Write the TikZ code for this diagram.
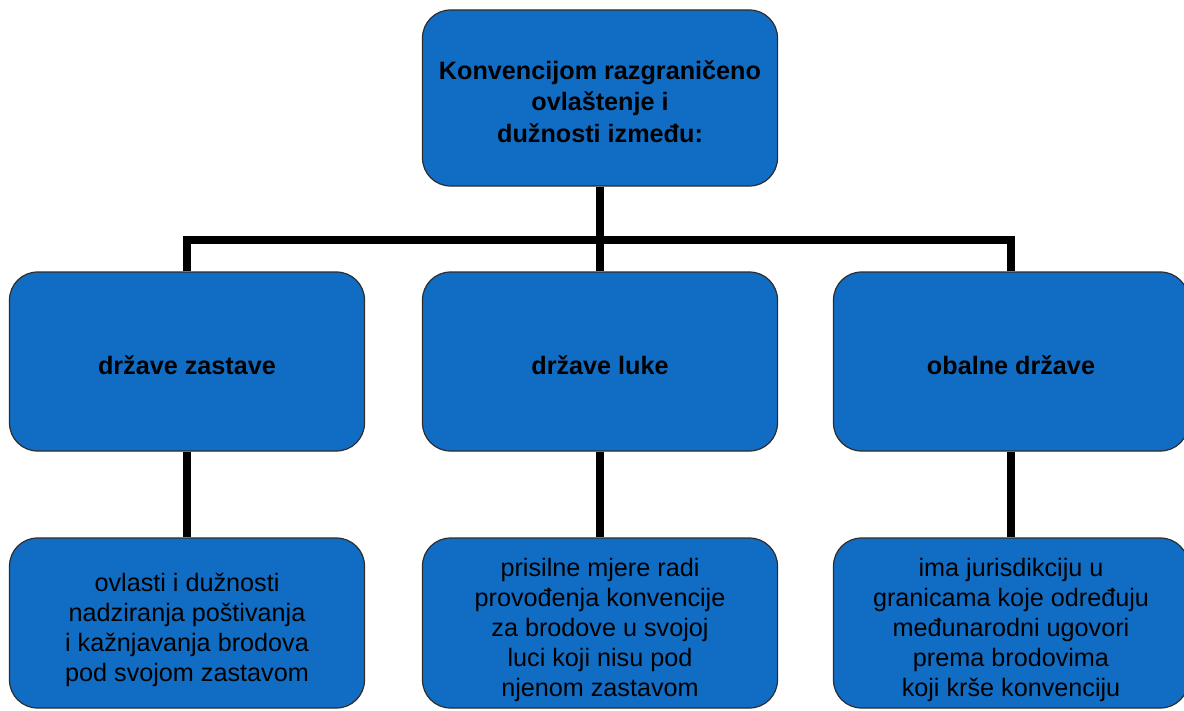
\documentclass[tikz,border=0pt]{standalone}
\usepackage{fontspec}
\setmainfont{Liberation Sans}
\definecolor{boxblue}{RGB}{17,109,196}
\definecolor{edgegray}{RGB}{45,45,45}
\newcommand{\topgap}[1]{\rule{0pt}{#1}}
\begin{document}
\begin{tikzpicture}[x=0.75pt,y=-0.75pt,
  box/.style={draw=edgegray, line width=0.9pt, fill=boxblue, rounded corners=21pt,
    minimum width=266.25pt, align=center, inner sep=0pt,
    font=\fontsize{18.9}{22.4}\selectfont},
  headbox/.style={box, font=\bfseries\fontsize{18.9}{23.6}\selectfont},
  conn/.style={line width=5.6pt, black}]
\clip (0,0) rectangle (1184,710);
\fill[white] (0,0) rectangle (1184,710);
% top
\node[headbox, minimum height=132pt] (top) at (600,98)
  {\topgap{19pt}Konvencijom razgraničeno\\ovlaštenje i\\dužnosti između:};
% middle row
\node[headbox, minimum height=134.25pt] (flag) at (187,361.5) {\topgap{19.5pt}države zastave};
\node[headbox, minimum height=134.25pt] (port) at (600,361.5) {\topgap{19.5pt}države luke};
\node[headbox, minimum height=134.25pt] (coast) at (1011,361.5) {\topgap{19.5pt}obalne države};
% bottom row
\node[box, minimum height=127.5pt] (flagd) at (187,623)
  {\topgap{24.5pt}ovlasti i dužnosti\\nadziranja poštivanja\\i kažnjavanja brodova\\pod svojom zastavom};
\node[box, minimum height=127.5pt] (portd) at (600,623)
  {\topgap{24.5pt}prisilne mjere radi\\provođenja konvencije\\za brodove u svojoj\\luci koji nisu pod\\njenom zastavom};
\node[box, minimum height=127.5pt] (coastd) at (1011,623)
  {\topgap{24.5pt}ima jurisdikciju u\\granicama koje određuju\\međunarodni ugovori\\prema brodovima\\koji krše konvenciju};
% connectors
\coordinate (bus) at (600,240);
\draw[conn] (top.south) -- (bus);
\draw[conn] (bus) -| (flag.north);
\draw[conn] (bus) -| (coast.north);
\draw[conn] (bus) -- (port.north);
\draw[conn] (flag.south) -- (flagd.north);
\draw[conn] (port.south) -- (portd.north);
\draw[conn] (coast.south) -- (coastd.north);
\end{tikzpicture}
\end{document}
